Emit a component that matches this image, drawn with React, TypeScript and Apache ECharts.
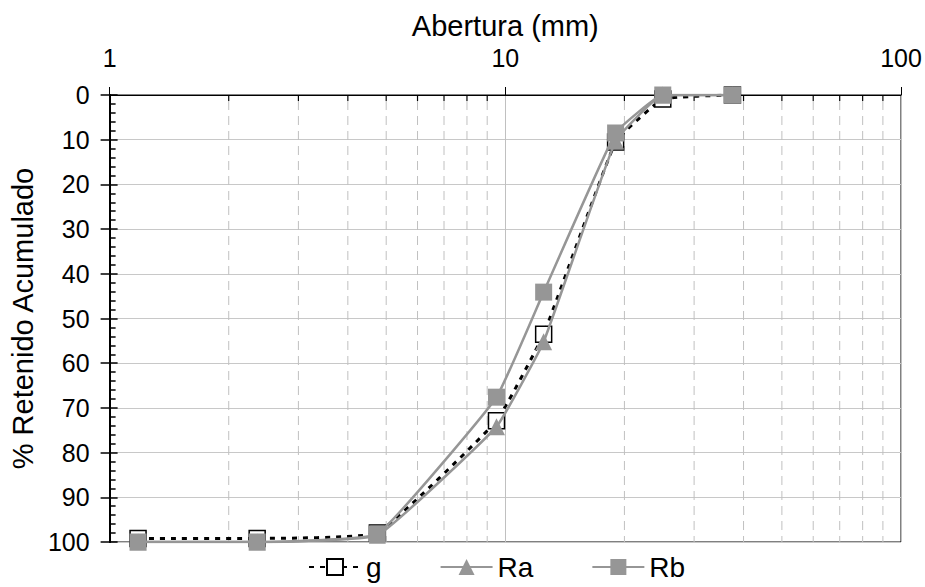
import React, { useEffect, useRef } from "react";
import * as echarts from "echarts";

const sieves = [1.18, 2.36, 4.75, 9.5, 12.5, 19, 25, 37.5];
const gValues = [99.2, 99.2, 98.0, 72.9, 53.5, 10.5, 0.9, 0];
const raValues = [100, 100, 98.5, 74.2, 55.2, 10.3, 0, 0];
const rbValues = [100, 100, 98.2, 67.6, 44.1, 8.5, 0, 0];
const minorX = [2, 3, 4, 5, 6, 7, 8, 9, 20, 30, 40, 50, 60, 70, 80, 90];
const seriesNames = ["g", "Ra", "Rb"];

const FONT = "'Liberation Sans', Arial, sans-serif";
const GREY = "#969696";
const TICK_FS = 25;
const TITLE_FS = 29;
const LEGEND_FS = 28;

export default function App() {
  const ref = useRef<HTMLDivElement>(null);
  useEffect(() => {
    if (!ref.current) return;
    const chart = echarts.init(ref.current, undefined, { renderer: "svg" });
    const pair = (vals: number[]) => sieves.map((x, i) => [x, vals[i]]);
    const yBase = {
      type: "value",
      inverse: true,
      min: 0,
      max: 100,
      interval: 10,
      position: "left",
    };
    chart.setOption({
      animation: false,
      textStyle: { fontFamily: FONT, color: "#000" },
      grid: {
        left: 108,
        right: 24,
        top: 95,
        bottom: 45,
        show: true,
        borderColor: "#000",
        borderWidth: 1,
        backgroundColor: "transparent",
      },
      legend: {
        data: seriesNames,
        top: 548,
        left: 303,
        itemWidth: 52,
        itemHeight: 20,
        itemGap: 58,
        textStyle: { fontSize: LEGEND_FS, color: "#000", fontFamily: FONT },
      },
      xAxis: {
        type: "log",
        logBase: 10,
        min: 1,
        max: 100,
        position: "top",
        name: "Abertura (mm)",
        nameLocation: "middle",
        nameGap: 54,
        nameTextStyle: { fontSize: TITLE_FS, color: "#000", fontFamily: FONT },
        axisLine: { show: true, lineStyle: { color: "#000", width: 1 } },
        axisTick: { show: true, inside: false, length: 8, lineStyle: { color: "#000" } },
        axisLabel: { fontSize: TICK_FS, color: "#000", margin: 25, fontFamily: FONT },
        splitLine: { show: true, lineStyle: { color: "#c0c0c0", width: 1 } },
      },
      yAxis: [
        {
          ...yBase,
          name: "% Retenido Acumulado",
          nameLocation: "middle",
          nameGap: 72,
          nameTextStyle: { fontSize: TITLE_FS, color: "#000", fontFamily: FONT },
          axisLine: { show: true, lineStyle: { color: "#000", width: 2 } },
          axisTick: { show: true, inside: true, length: 8, lineStyle: { color: "#000", width: 1.5 } },
          minorTick: { show: true, splitNumber: 5, length: 6, lineStyle: { color: "#000", width: 1.5 } },
          axisLabel: { fontSize: TICK_FS, color: "#000", margin: 20, fontFamily: FONT },
          splitLine: { show: true, lineStyle: { color: "#c8c8c8", width: 1 } },
        },
        {
          ...yBase,
          axisLine: { show: true, lineStyle: { color: "#000", width: 2 } },
          axisTick: { show: true, inside: false, length: 9, lineStyle: { color: "#000", width: 1.5 } },
          axisLabel: { show: false },
          splitLine: { show: false },
        },
      ],
      series: [
        {
          type: "custom",
          name: "minor",
          silent: true,
          z: 1,
          data: minorX.map((v) => [v]),
          encode: { x: 0 },
          renderItem: (_params: any, api: any) => {
            const v = api.value(0);
            const top = api.coord([v, 0]);
            const bot = api.coord([v, 100]);
            return {
              type: "group",
              children: [
                {
                  type: "line",
                  shape: { x1: top[0], y1: top[1] + 6, x2: bot[0], y2: bot[1] },
                  style: { stroke: "#c0c0c0", lineWidth: 1, lineDash: [9, 6] },
                },
                {
                  type: "line",
                  shape: { x1: top[0], y1: top[1], x2: top[0], y2: top[1] + 6 },
                  style: { stroke: "#000", lineWidth: 1.2 },
                },
              ],
            };
          },
        },
        {
          name: "g",
          type: "line",
          data: pair(gValues),
          smooth: 0.1,
          symbol: "rect",
          symbolSize: 16,
          z: 3,
          lineStyle: { color: "#000", width: 3, type: [5, 6] },
          itemStyle: { color: "#fff", borderColor: "#000", borderWidth: 1.5 },
        },
        {
          name: "Ra",
          type: "line",
          data: pair(raValues),
          smooth: 0.1,
          symbol: "triangle",
          symbolSize: 17,
          z: 4,
          lineStyle: { color: GREY, width: 2.5 },
          itemStyle: { color: GREY },
        },
        {
          name: "Rb",
          type: "line",
          data: pair(rbValues),
          smooth: 0.1,
          symbol: "rect",
          symbolSize: 17,
          z: 5,
          lineStyle: { color: GREY, width: 2.5 },
          itemStyle: { color: GREY },
        },
      ],
    });
    return () => chart.dispose();
  }, []);
  return (
    <div
      ref={ref}
      style={{ position: "absolute", left: 0, top: 0, width: 925, height: 587 }}
    />
  );
}
